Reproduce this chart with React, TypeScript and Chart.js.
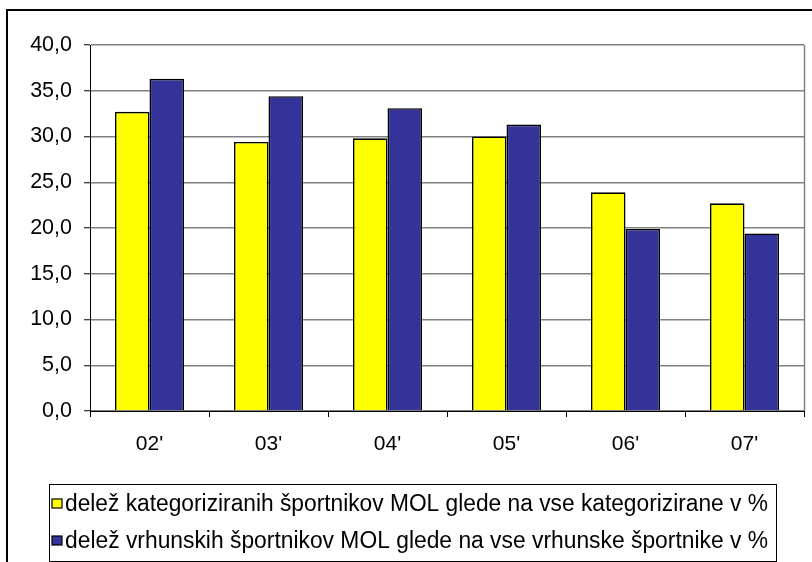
import React, { useEffect, useRef } from "react";
import { Chart, registerables } from "chart.js";

Chart.register(...registerables);

const categories = ["02'", "03'", "04'", "05'", "06'", "07'"];
const seriesKategorizirani = [32.7, 29.4, 29.8, 30.0, 23.9, 22.7];
const seriesVrhunski = [36.3, 34.4, 33.1, 31.3, 19.9, 19.4];
const seriesNames = [
  "delež kategoriziranih športnikov MOL glede na vse kategorizirane v %",
  "delež vrhunskih športnikov MOL glede na vse vrhunske športnike v %",
];
const seriesColors = ["#FFFF00", "#333399"];

const FONT = "'Liberation Sans', Arial, sans-serif";

const framePlugin = {
  id: "frameAndLegend",
  afterDraw(chart: any) {
    const ctx = chart.ctx;
    const area = chart.chartArea;
    ctx.save();
    // plot right border
    ctx.strokeStyle = "#808080";
    ctx.lineWidth = 1.5;
    ctx.beginPath();
    ctx.moveTo(area.right + 0.5, area.top);
    ctx.lineTo(area.right + 0.5, area.bottom);
    ctx.stroke();
    // outer frame
    ctx.strokeStyle = "#000";
    ctx.lineWidth = 2;
    ctx.beginPath();
    ctx.moveTo(7, 562);
    ctx.lineTo(7, 10);
    ctx.lineTo(812, 10);
    ctx.stroke();
    // legend box
    ctx.lineWidth = 1;
    ctx.strokeStyle = "#000";
    ctx.strokeRect(49.5, 484.5, 727, 77);
    const rows = [503.5, 540.5];
    ctx.font = `23px ${FONT}`;
    ctx.textBaseline = "middle";
    ctx.fillStyle = "#000";
    seriesNames.forEach((name, i) => {
      ctx.fillStyle = seriesColors[i];
      ctx.fillRect(52, rows[i] - 4.5, 10, 9);
      ctx.strokeStyle = "#000";
      ctx.lineWidth = 1.2;
      ctx.strokeRect(52, rows[i] - 4.5, 10, 9);
      ctx.fillStyle = "#000";
      ctx.fillText(name, 65, rows[i] + 1, 703);
    });
    ctx.restore();
  },
};

export default function App() {
  const ref = useRef<HTMLCanvasElement>(null);
  useEffect(() => {
    if (!ref.current) return;
    const chart = new Chart(ref.current, {
      type: "bar",
      data: {
        labels: categories,
        datasets: [
          {
            label: seriesNames[0],
            data: seriesKategorizirani,
            backgroundColor: seriesColors[0],
            borderColor: "#000",
            borderWidth: 1.6,
          },
          {
            label: seriesNames[1],
            data: seriesVrhunski,
            backgroundColor: seriesColors[1],
            borderColor: "#000",
            borderWidth: 1.6,
          },
        ],
      },
      options: {
        responsive: false,
        animation: false,
        layout: { padding: { left: 0, top: 45, right: 8, bottom: 0 } },
        datasets: {
          bar: { categoryPercentage: 0.58, barPercentage: 1.0 },
        } as any,
        plugins: {
          legend: { display: false },
          tooltip: { enabled: false },
        },
        scales: {
          x: {
            offset: true,
            grid: {
              display: true,
              offset: true,
              drawOnChartArea: false,
              tickLength: 6,
              tickColor: "#000",
              tickWidth: 1,
            },
            border: { display: true, color: "#000", width: 1 },
            ticks: {
              color: "#000",
              font: { family: FONT, size: 21 },
              padding: 15,
              maxRotation: 0,
            },
            afterFit(scale: any) {
              scale.height = 151;
            },
          },
          y: {
            min: 0,
            max: 40,
            grid: {
              color: "#808080",
              lineWidth: 1.5,
              tickLength: 6,
              tickColor: "#000",
              tickWidth: 1,
            },
            border: { display: true, color: "#000", width: 1 },
            ticks: {
              stepSize: 5,
              color: "#000",
              font: { family: FONT, size: 21.5 },
              padding: 12,
              callback: (v: any) => Number(v).toFixed(1).replace(".", ","),
            },
            afterFit(scale: any) {
              scale.width = 90;
            },
          },
        },
      },
      plugins: [framePlugin],
    });
    return () => chart.destroy();
  }, []);
  return (
    <div style={{ position: "absolute", left: 0, top: 0, width: 812, height: 562, background: "#fff" }}>
      <canvas ref={ref} width={812} height={562} style={{ display: "block" }} />
    </div>
  );
}
